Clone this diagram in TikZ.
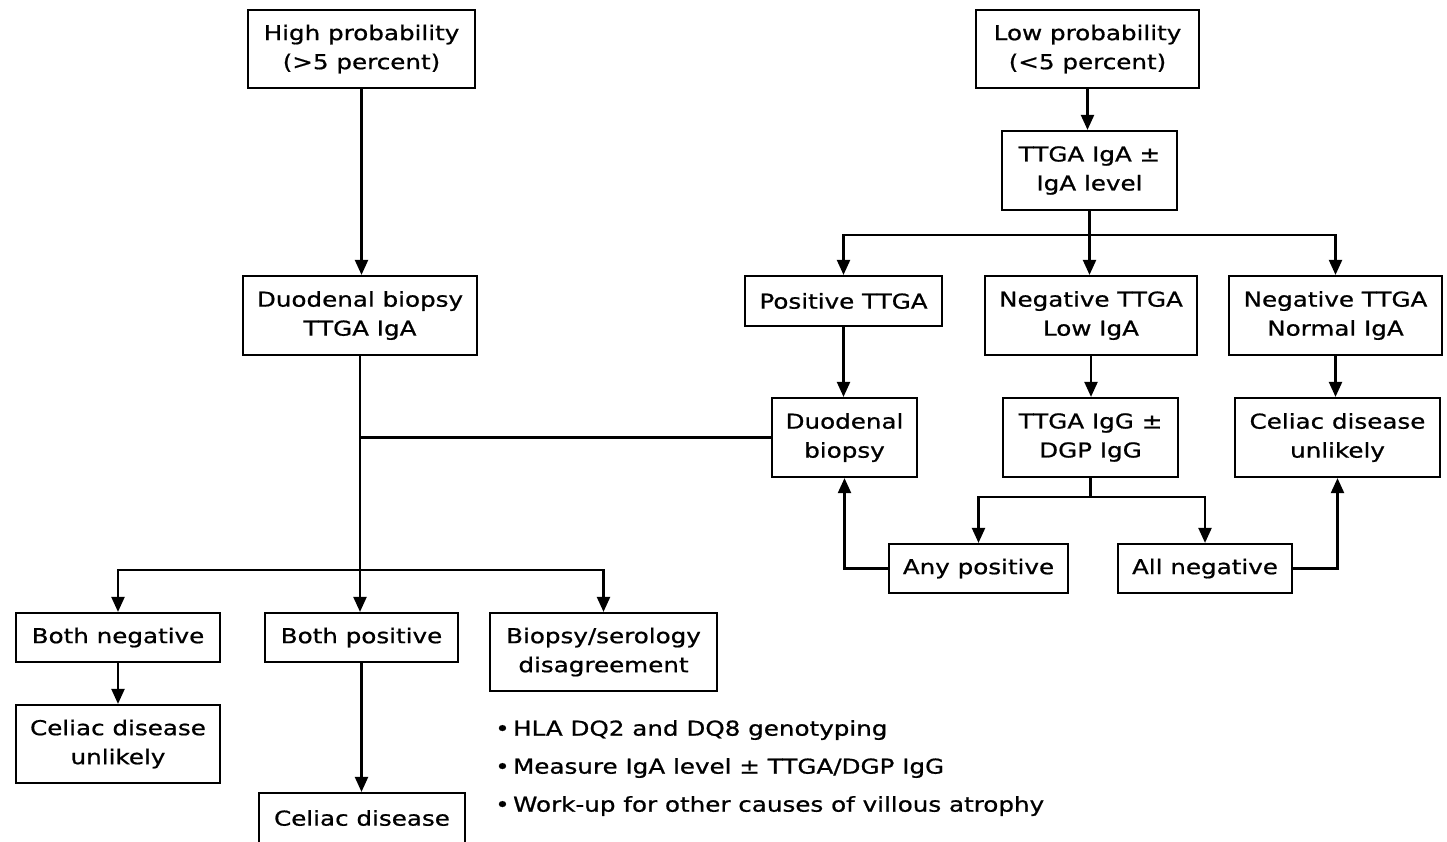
\documentclass[tikz,border=0pt]{standalone}
\usepackage{fontspec}
\setmainfont[FakeStretch=1.2,FakeBold=0.8]{DejaVu Sans}
\usetikzlibrary{arrows.meta}
\begin{document}
\begin{tikzpicture}[x=1pt,y=-1pt,
  box/.style={draw, line width=2.2pt, align=center, inner sep=0pt,
    font=\fontsize{20.5}{29}\selectfont},
  arr/.style={line width=2.2pt, -{Triangle[length=15pt,width=13pt]}},
  ln/.style={line width=2.2pt},
  bul/.style={anchor=west, inner sep=0pt, font=\fontsize{20.5}{29}\selectfont}]
\useasboundingbox (0,0) rectangle (1447,841);
\clip (0,0) rectangle (1447,841);
\fill[white] (0,0) rectangle (1447,841);
% left column
\node[box, minimum width=227, minimum height=78] (hp) at (361.5,49) {High probability\\(>5 percent)};
\node[box, minimum width=234, minimum height=79] (dbt) at (360,315.5) {Duodenal biopsy\\TTGA IgA};
\node[box, minimum width=204, minimum height=49] (bn) at (118,637.5) {Both negative};
\node[box, minimum width=193, minimum height=49] (bp) at (361.5,637.5) {Both positive};
\node[box, minimum width=227, minimum height=78] (bsd) at (603.5,652) {Biopsy/serology\\disagreement};
\node[box, minimum width=204, minimum height=78] (cu1) at (118,744) {Celiac disease\\unlikely};
\node[box, minimum width=206, minimum height=50] (cd) at (362,818) {Celiac disease};
% right side
\node[box, minimum width=223, minimum height=78] (lp) at (1087.5,49) {Low probability\\(<5 percent)};
\node[box, minimum width=175, minimum height=79] (tt) at (1089.5,170.5) {TTGA IgA ±\\IgA level};
\node[box, minimum width=197, minimum height=50] (pos) at (843.5,301) {Positive TTGA};
\node[box, minimum width=212, minimum height=79] (nl) at (1091,315.5) {Negative TTGA\\Low IgA};
\node[box, minimum width=213, minimum height=79] (nn) at (1335.5,315.5) {Negative TTGA\\Normal IgA};
\node[box, minimum width=145, minimum height=79] (db2) at (844.5,437.5) {Duodenal\\biopsy};
\node[box, minimum width=175, minimum height=79] (ig) at (1090.5,437.5) {TTGA IgG ±\\DGP IgG};
\node[box, minimum width=205, minimum height=79] (cu2) at (1337.5,437.5) {Celiac disease\\unlikely};
\node[box, minimum width=179, minimum height=49] (ap) at (978.5,568.5) {Any positive};
\node[box, minimum width=174, minimum height=49] (an) at (1205,568.5) {All negative};
% bullets
\node[bul] (b1) at (495,730) {•\,HLA DQ2 and DQ8 genotyping};
\node[bul] (b2) at (495,768) {•\,Measure IgA level ± TTGA/DGP IgG};
\node[bul] (b3) at (495,806) {•\,Work-up for other causes of villous atrophy};
% coordinates
\coordinate (bt) at (tt.south |- 0,235);
\coordinate (bi) at (ig.south |- 0,497);
\coordinate (jn) at (dbt.south |- 0,570);
\coordinate (jm) at (dbt.south |- db2.west);
% connectors
\draw[arr] (hp.south) -- (hp.south |- dbt.north);
\draw[arr] (lp.south) -- (lp.south |- tt.north);
\draw[ln] (tt.south) -- (bt);
\draw[arr] (bt) -| (pos.north);
\draw[arr] (bt) -- (bt |- nl.north);
\draw[arr] (bt) -| (nn.north);
\draw[arr] (pos.south) -- (pos.south |- db2.north);
\draw[arr] (nl.south) -- (nl.south |- ig.north);
\draw[arr] (nn.south) -- (nn.south |- cu2.north);
\draw[ln] (ig.south) -- (bi);
\draw[arr] (bi) -| (ap.north);
\draw[arr] (bi) -| (an.north);
\draw[arr] (ap.west) -| (db2.south);
\draw[arr] (an.east) -| (cu2.south);
\draw[ln] (db2.west) -- (jm);
\draw[ln] (dbt.south) -- (jn);
\draw[arr] (jn) -| (bn.north);
\draw[arr] (jn) -- (jn |- bp.north);
\draw[arr] (jn) -| (bsd.north);
\draw[arr] (bn.south) -- (bn.south |- cu1.north);
\draw[arr] (bp.south) -- (bp.south |- cd.north);
\end{tikzpicture}
\end{document}
